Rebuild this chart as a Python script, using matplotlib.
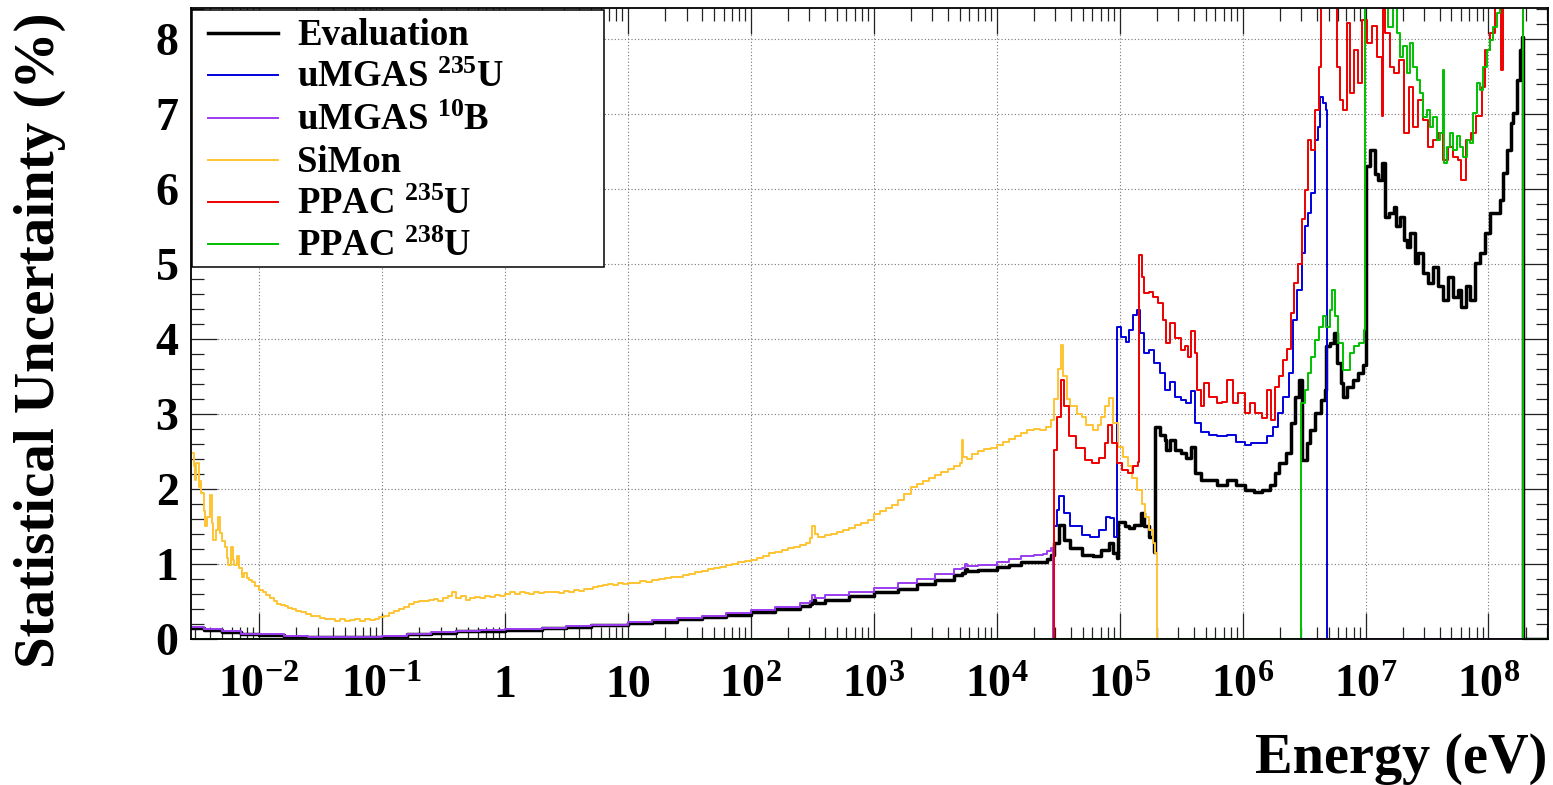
# Statistical uncertainty of the flux per detector vs neutron energy (ROOT-style plot)
import numpy as np
import matplotlib
matplotlib.use("Agg")
import matplotlib.pyplot as plt
from matplotlib.ticker import FixedLocator, FixedFormatter, LogLocator, MultipleLocator, NullFormatter
from matplotlib.legend_handler import HandlerLine2D

plt.rcParams['font.family'] = ['Liberation Serif', 'DejaVu Serif']
plt.rcParams['font.weight'] = 'bold'
plt.rcParams['mathtext.fontset'] = 'custom'
plt.rcParams['mathtext.rm'] = 'Liberation Serif:bold'
plt.rcParams['mathtext.bf'] = 'Liberation Serif:bold'
plt.rcParams['mathtext.it'] = 'Liberation Serif:bold:italic'
plt.rcParams['mathtext.default'] = 'rm'

# ---- data: log10(E / eV) of bin starts and uncertainty (%) ----
eval_loge = [-2.56, -2.45, -2.30, -2.15, -2.00, -1.80, -1.60, -1.40, -1.20, -1.00, -0.80, -0.60,
             -0.40, -0.20, 0.00, 0.30, 0.50, 0.70, 1.00, 1.20, 1.40, 1.60, 1.80, 2.00, 2.20, 2.40,
             2.48, 2.50, 2.52, 2.60, 2.80, 3.00, 3.20, 3.35, 3.50, 3.65, 3.72, 3.74, 3.76, 3.85,
             4.00, 4.10, 4.20, 4.30, 4.38, 4.41, 4.44, 4.47, 4.51, 4.55, 4.60, 4.69, 4.78, 4.85,
             4.91, 4.95, 4.98, 4.99, 5.04, 5.08, 5.12, 5.17, 5.20, 5.24, 5.28, 5.29, 5.33, 5.37,
             5.38, 5.41, 5.45, 5.50, 5.54, 5.58, 5.61, 5.66, 5.73, 5.79, 5.87, 5.95, 6.02, 6.09,
             6.16, 6.22, 6.26, 6.30, 6.35, 6.39, 6.43, 6.46, 6.48, 6.52, 6.55, 6.59, 6.64, 6.67,
             6.68, 6.71, 6.74, 6.77, 6.80, 6.82, 6.85, 6.90, 6.94, 6.98, 7.00, 7.04, 7.08, 7.10,
             7.13, 7.16, 7.19, 7.23, 7.25, 7.28, 7.31, 7.34, 7.36, 7.40, 7.43, 7.47, 7.51, 7.55,
             7.59, 7.63, 7.67, 7.71, 7.75, 7.78, 7.82, 7.85, 7.89, 7.93, 7.97, 8.01, 8.05, 8.09,
             8.12, 8.15, 8.18, 8.20, 8.23, 8.26, 8.27, 8.28, 8.50]
eval_unc = [0.15, 0.12, 0.09, 0.06, 0.05, 0.03, 0.02, 0.02, 0.02, 0.03, 0.06, 0.08,
            0.10, 0.11, 0.12, 0.14, 0.16, 0.18, 0.21, 0.23, 0.26, 0.29, 0.32, 0.36, 0.40, 0.44,
            0.47, 0.52, 0.48, 0.52, 0.57, 0.62, 0.67, 0.73, 0.79, 0.85, 0.88, 0.93, 0.90, 0.92,
            0.96, 0.99, 1.02, 1.03, 1.02, 1.07, 1.12, 1.28, 1.52, 1.32, 1.21, 1.12, 1.10, 1.19,
            1.28, 1.14, 1.08, 1.56, 1.50, 1.48, 1.52, 1.68, 1.50, 1.36, 1.16, 2.83, 2.72, 2.65,
            2.52, 2.65, 2.52, 2.48, 2.41, 2.56, 2.21, 2.12, 2.12, 2.05, 2.12, 2.05, 1.99, 1.96,
            1.99, 2.05, 2.21, 2.34, 2.48, 2.88, 3.23, 3.45, 2.39, 2.61, 2.79, 3.01, 3.19, 3.32,
            3.90, 3.94, 4.08, 3.68, 3.41, 3.23, 3.36, 3.45, 3.54, 3.65, 6.30, 6.52, 6.20, 6.12,
            6.34, 5.63, 5.68, 5.76, 5.50, 5.63, 5.32, 5.23, 5.41, 5.01, 5.14, 4.88, 4.74, 4.96,
            4.70, 4.52, 4.83, 4.56, 4.65, 4.43, 4.70, 4.52, 5.01, 5.14, 5.41, 5.68, 5.68, 5.85,
            6.21, 6.52, 6.88, 7.01, 7.45, 7.85, 8.02, 0.00, 0.00]

mg235_loge = [-2.56, 4.465, 4.49, 4.51, 4.55, 4.60, 4.69, 4.76, 4.83, 4.89, 4.92, 4.956, 4.978,
              5.01, 5.05, 5.08, 5.11, 5.14, 5.165, 5.195, 5.24, 5.28, 5.325, 5.37, 5.41, 5.45,
              5.50, 5.54, 5.58, 5.61, 5.66, 5.73, 5.79, 5.87, 5.95, 6.02, 6.07, 6.15, 6.20, 6.25,
              6.29, 6.33, 6.38, 6.41, 6.44, 6.48, 6.51, 6.53, 6.56, 6.59, 6.61, 6.63, 6.65, 6.68,
              6.687]
mg235_unc = [0.00, 1.50, 1.72, 1.90, 1.68, 1.50, 1.39, 1.36, 1.45, 1.63, 1.61, 1.36, 4.16,
             4.03, 3.96, 4.12, 4.32, 4.39, 4.08, 3.81, 3.85, 3.68, 3.54, 3.32, 3.43, 3.23,
             3.19, 3.14, 3.30, 2.88, 2.76, 2.72, 2.70, 2.72, 2.63, 2.59, 2.61, 2.61, 2.70, 2.83,
             3.01, 3.23, 3.54, 4.25, 4.65, 5.14, 5.50, 5.68, 5.94, 6.65, 6.83, 7.23, 7.14, 7.05,
             0.00]

mg10b_loge = [-2.56, -2.45, -2.30, -2.15, -2.00, -1.80, -1.60, -1.40, -1.20, -1.00, -0.80, -0.60,
              -0.40, -0.20, 0.00, 0.30, 0.50, 0.70, 1.00, 1.20, 1.40, 1.60, 1.80, 2.00, 2.20, 2.40,
              2.48, 2.50, 2.52, 2.60, 2.80, 3.00, 3.20, 3.35, 3.50, 3.65, 3.72, 3.74, 3.76, 3.85,
              4.00, 4.10, 4.20, 4.30, 4.38, 4.41, 4.44, 4.46, 8.50]
mg10b_unc = [0.16, 0.13, 0.10, 0.07, 0.06, 0.04, 0.03, 0.03, 0.03, 0.04, 0.07, 0.09,
             0.11, 0.12, 0.13, 0.15, 0.17, 0.19, 0.23, 0.25, 0.28, 0.31, 0.34, 0.39, 0.43, 0.48,
             0.51, 0.59, 0.54, 0.58, 0.63, 0.68, 0.74, 0.80, 0.86, 0.93, 0.95, 1.00, 0.97, 0.99,
             1.03, 1.06, 1.10, 1.12, 1.13, 1.17, 1.21, 0.00, 0.00]

simon_loge = [-2.56, -2.53, -2.52, -2.51, -2.49, -2.48, -2.47, -2.45, -2.44, -2.42, -2.40, -2.385,
              -2.37, -2.35, -2.33, -2.32, -2.30, -2.28, -2.26, -2.25, -2.23, -2.21, -2.20, -2.18,
              -2.16, -2.14, -2.12, -2.10, -2.08, -2.06, -2.03, -2.00, -1.97, -1.94, -1.91, -1.88,
              -1.85, -1.82, -1.79, -1.76, -1.73, -1.70, -1.66, -1.62, -1.58, -1.54, -1.50, -1.46,
              -1.42, -1.38, -1.34, -1.30, -1.26, -1.22, -1.18, -1.14, -1.10, -1.06, -1.02, -0.98,
              -0.94, -0.90, -0.86, -0.82, -0.78, -0.74, -0.70, -0.66, -0.62, -0.58, -0.54, -0.50,
              -0.46, -0.43, -0.40, -0.36, -0.32, -0.28, -0.24, -0.20, -0.16, -0.12, -0.08, -0.04,
              0.00, 0.04, 0.08, 0.12, 0.16, 0.20, 0.24, 0.28, 0.32, 0.36, 0.40, 0.44, 0.48, 0.52,
              0.56, 0.60, 0.64, 0.68, 0.72, 0.76, 0.80, 0.84, 0.88, 0.92, 0.96, 1.00, 1.05, 1.10,
              1.15, 1.20, 1.25, 1.30, 1.35, 1.40, 1.45, 1.50, 1.55, 1.60, 1.65, 1.70, 1.75, 1.80,
              1.85, 1.90, 1.95, 2.00, 2.05, 2.10, 2.15, 2.20, 2.25, 2.30, 2.35, 2.40, 2.45, 2.48,
              2.50, 2.52, 2.55, 2.60, 2.65, 2.70, 2.75, 2.80, 2.85, 2.90, 2.95, 3.00, 3.05, 3.10,
              3.15, 3.20, 3.25, 3.30, 3.35, 3.40, 3.45, 3.50, 3.55, 3.60, 3.65, 3.70, 3.72, 3.73,
              3.76, 3.80, 3.85, 3.90, 3.95, 4.00, 4.05, 4.10, 4.15, 4.20, 4.25, 4.30, 4.35, 4.40,
              4.44, 4.47, 4.50, 4.52, 4.54, 4.57, 4.60, 4.65, 4.69, 4.73, 4.78, 4.82, 4.85, 4.88,
              4.91, 4.95, 4.99, 5.03, 5.07, 5.10, 5.14, 5.18, 5.21, 5.24, 5.27, 5.29, 5.30]
simon_unc = [2.48, 2.30, 2.12, 2.35, 2.03, 2.10, 1.94, 1.70, 1.50, 1.62, 1.92, 1.55,
             1.32, 1.45, 1.63, 1.41, 1.30, 1.23, 1.08, 0.99, 1.23, 1.05, 0.99, 1.10,
             0.95, 0.83, 0.88, 0.81, 0.78, 0.76, 0.70, 0.65, 0.62, 0.59, 0.55, 0.50,
             0.47, 0.45, 0.44, 0.41, 0.40, 0.37, 0.36, 0.33, 0.31, 0.30, 0.28, 0.27,
             0.26, 0.24, 0.26, 0.24, 0.25, 0.26, 0.24, 0.26, 0.25, 0.27, 0.29, 0.31,
             0.34, 0.37, 0.40, 0.43, 0.46, 0.49, 0.51, 0.50, 0.52, 0.53, 0.51, 0.55,
             0.57, 0.62, 0.55, 0.57, 0.52, 0.55, 0.56, 0.54, 0.57, 0.56, 0.58, 0.57,
             0.60, 0.63, 0.60, 0.62, 0.61, 0.60, 0.62, 0.61, 0.63, 0.62, 0.63, 0.61, 0.64, 0.63,
             0.65, 0.64, 0.66, 0.67, 0.69, 0.70, 0.72, 0.73, 0.72, 0.74, 0.73, 0.74, 0.75, 0.77,
             0.76, 0.79, 0.80, 0.81, 0.82, 0.83, 0.85, 0.87, 0.89, 0.90, 0.93, 0.94, 0.96, 0.98,
             1.00, 1.02, 1.04, 1.05, 1.08, 1.11, 1.14, 1.16, 1.19, 1.21, 1.23, 1.25, 1.28, 1.35,
             1.50, 1.40, 1.36, 1.38, 1.40, 1.42, 1.45, 1.48, 1.52, 1.55, 1.59, 1.66, 1.70, 1.74,
             1.79, 1.85, 1.93, 2.03, 2.06, 2.10, 2.14, 2.18, 2.22, 2.26, 2.30, 2.35, 2.65, 2.43,
             2.40, 2.47, 2.50, 2.53, 2.55, 2.58, 2.62, 2.66, 2.70, 2.75, 2.79, 2.80, 2.78, 2.83,
             2.92, 3.20, 3.60, 3.92, 3.50, 3.20, 3.10, 3.00, 2.96, 2.85, 2.79, 2.85, 2.96, 3.10,
             3.21, 2.88, 2.56, 2.42, 2.30, 2.15, 1.99, 1.80, 1.63, 1.45, 1.28, 1.14, 0.00]

pp235_loge = [-2.56, 4.465, 4.49, 4.52, 4.55, 4.59, 4.645, 4.72, 4.775, 4.83, 4.88, 4.905, 4.935,
              4.978, 5.02, 5.065, 5.11, 5.15, 5.161, 5.18, 5.195, 5.24, 5.27, 5.31, 5.35, 5.38,
              5.41, 5.45, 5.50, 5.53, 5.56, 5.58, 5.61, 5.63, 5.66, 5.69, 5.73, 5.79, 5.83, 5.87,
              5.92, 5.96, 6.02, 6.06, 6.10, 6.16, 6.20, 6.23, 6.26, 6.30, 6.33, 6.36, 6.39, 6.42,
              6.45, 6.48, 6.51, 6.535, 6.56, 6.59, 6.62, 6.64, 6.765, 6.79, 6.82, 6.85, 6.87, 6.91,
              6.94, 6.97, 7.01, 7.05, 7.09, 7.13, 7.145, 7.16, 7.20, 7.23, 7.27, 7.31, 7.35, 7.39,
              7.43, 7.47, 7.51, 7.55, 7.59, 7.63, 7.67, 7.71, 7.75, 7.78, 7.82, 7.86, 7.90, 7.945,
              7.97, 8.01, 8.05, 8.105, 8.12, 8.28, 8.50]
pp235_unc = [0.00, 2.52, 2.96, 3.45, 3.10, 2.70, 2.54, 2.39, 2.34, 2.41, 2.61, 2.85, 2.61,
             2.34, 2.25, 2.21, 2.30, 2.36, 5.12, 4.83, 4.61, 4.63, 4.56, 4.48, 4.25, 3.94,
             4.21, 4.01, 3.85, 3.90, 3.76, 4.10, 3.81, 3.32, 3.10, 3.41, 3.23, 3.14, 3.16, 3.45,
             3.14, 3.28, 3.01, 3.14, 3.01, 2.94, 3.32, 2.92, 3.36, 3.50, 3.72, 3.87, 4.35, 4.74,
             5.00, 5.60, 5.99, 6.65, 6.52, 7.05, 7.63, 9.00, 7.63, 7.19, 7.05, 8.21, 7.28, 7.85,
             7.41, 8.25, 7.95, 8.17, 7.76, 6.97, 9.00, 8.08, 7.63, 7.55, 7.72, 6.75, 7.36, 6.83,
             7.19, 6.92, 6.56, 6.65, 6.75, 6.39, 6.56, 6.43, 6.39, 6.12, 6.65, 6.75, 6.97, 7.36,
             7.85, 8.08, 9.00, 7.59, 9.00, 0.00, 0.00]

pp238_loge = [-2.56, 6.475, 6.51, 6.535, 6.56, 6.59, 6.62, 6.65, 6.68, 6.71, 6.73, 6.75, 6.78,
              6.82, 6.87, 6.91, 6.95, 6.99, 6.996, 7.185, 7.226, 7.253, 7.28, 7.307, 7.335, 7.36,
              7.39, 7.416, 7.443, 7.47, 7.497, 7.524, 7.551, 7.579, 7.606, 7.632, 7.64, 7.66,
              7.687, 7.714, 7.741, 7.768, 7.795, 7.823, 7.849, 7.876, 7.904, 7.931, 7.958, 7.985,
              8.012, 8.04, 8.067, 8.093, 8.28, 8.50]
pp238_unc = [0.00, 3.14, 3.32, 3.54, 3.76, 3.99, 4.16, 4.30, 4.16, 4.39, 4.65, 4.30, 3.94,
             3.59, 3.81, 3.90, 3.94, 4.12, 9.00, 8.16, 8.45, 8.08, 7.76, 7.90, 7.54, 7.94,
             7.63, 7.45, 7.28, 6.96, 7.05, 6.83, 6.96, 6.65, 6.74, 7.59, 6.35, 6.56,
             6.74, 6.52, 6.70, 6.56, 6.43, 6.65, 6.61, 7.01, 7.41, 7.32, 7.63, 7.85,
             7.99, 8.16, 8.34, 9.00, 0.00, 0.00]

labels = ["Evaluation", r"uMGAS $^{235}$U", r"uMGAS $^{10}$B", "SiMon",
          r"PPAC $^{235}$U", r"PPAC $^{238}$U"]
colors = ["black", "#0000dd", "#9a3cf0", "#fdc432", "#ee0000", "#00c000"]
widths = [2.5, 1.4, 1.4, 1.4, 1.4, 1.4]
series_loge = [eval_loge, mg235_loge, mg10b_loge, simon_loge, pp235_loge, pp238_loge]
series_unc = [eval_unc, mg235_unc, mg10b_unc, simon_unc, pp235_unc, pp238_unc]

xtick_pos = [1e-2, 1e-1, 1, 10, 1e2, 1e3, 1e4, 1e5, 1e6, 1e7, 1e8]
xtick_lab = [r"$10^{-2}$", r"$10^{-1}$", "1", "10", r"$10^{2}$", r"$10^{3}$", r"$10^{4}$",
             r"$10^{5}$", r"$10^{6}$", r"$10^{7}$", r"$10^{8}$"]


class RootLegendLine(HandlerLine2D):
    # put the sample line at mid cap height, as ROOT does
    def create_artists(self, legend, orig_handle, xdescent, ydescent, width, height, fontsize, trans):
        arts = super().create_artists(legend, orig_handle, xdescent, ydescent, width, height,
                                      fontsize, trans)
        for a in arts:
            a.set_ydata(np.asarray(a.get_ydata(), float) - 0.13 * fontsize)
        return arts


fig = plt.figure(figsize=(15.53, 7.85), dpi=100)
ax = fig.add_axes([191 / 1553, 146 / 785, 1357 / 1553, 631 / 785])

for lab, le, val, col, lw in zip(labels, series_loge, series_unc, colors, widths):
    ax.step(10.0 ** np.asarray(le), val, where="post", color=col, lw=lw, label=lab)

ax.set_xscale("log")
ax.set_xlim(10 ** -2.553, 10 ** 8.484)
ax.set_ylim(0, 8.413)

ax.xaxis.set_major_locator(FixedLocator(xtick_pos))
ax.xaxis.set_major_formatter(FixedFormatter(xtick_lab))
ax.xaxis.set_minor_locator(LogLocator(base=10, subs=np.arange(2, 10), numticks=100))
ax.xaxis.set_minor_formatter(NullFormatter())
ax.yaxis.set_major_locator(MultipleLocator(1))
ax.yaxis.set_minor_locator(MultipleLocator(0.2))

ax.tick_params(which="both", direction="in", top=True, right=True, width=0.9, color="#222222")
ax.tick_params(which="major", length=18.5)
ax.tick_params(which="minor", length=9)
ax.tick_params(axis="x", which="major", labelsize=33, pad=19)
ax.tick_params(axis="y", which="major", labelsize=33, pad=9)
for sp in ax.spines.values():
    sp.set_linewidth(1.3)

ax.grid(True, which="major", color="#777777", linestyle=(0, (1, 2)), linewidth=0.8)
ax.set_axisbelow(True)

leg = ax.legend(loc="upper left", bbox_to_anchor=(1 / 1357, 372 / 631, 412 / 1357, 257 / 631),
                mode="expand", borderaxespad=0, borderpad=0.05, fancybox=False, framealpha=1,
                edgecolor="black", prop={"family": "Liberation Serif", "weight": "bold", "size": 26.5},
                handlelength=2.28, handleheight=1.387, labelspacing=0.0, handletextpad=0.52,
                handler_map={matplotlib.lines.Line2D: RootLegendLine(xpad=0.38)})
leg.get_frame().set_linewidth(1.1)

fig.text(1547 / 1553, (785 - 773) / 785, "Energy (eV)", ha="right", va="baseline",
         fontsize=40.5, fontweight="bold")
fig.text(40 / 1553, 1 - 12 / 785, "Statistical Uncertainty (%)", rotation=90, ha="center",
         va="top", fontsize=41, fontweight="bold")

fig.savefig("out.png", dpi=100)
